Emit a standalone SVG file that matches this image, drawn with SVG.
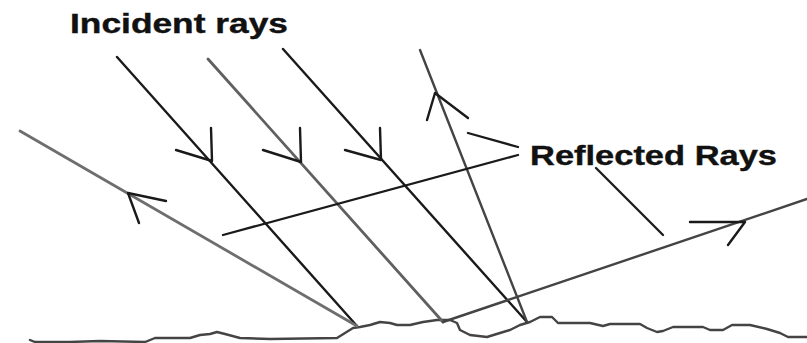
<svg xmlns="http://www.w3.org/2000/svg" width="807" height="343" viewBox="0 0 807 343">
<style>
.ray{fill:none;stroke-width:2.4;stroke-linecap:round;stroke-linejoin:round}
.inc{stroke:#1a1a1a}
.incg{stroke:#606060;stroke-width:2.8}
.ref{stroke:#6e6e6e;stroke-width:2.8}
.refd{stroke:#444}
.ptr{fill:none;stroke:#1a1a1a;stroke-width:2.3;stroke-linecap:round}
.lbl{font-family:"Liberation Sans",Arial,sans-serif;font-weight:bold;font-size:27px;fill:#111;stroke:#111;stroke-width:0.4}
</style>
<rect width="807" height="343" fill="#fff"/>
<g id="ground">
<path class="ray refd" d="M30,340 L35,342 L70,342 L100,341 L145,342 L155,338 L190,338 L200,335 L210,334 L217,332 L225,334 L240,338 L270,339 L337,338 L353,328 L360,327 L370,325 L380,322 L390,323 L397,325 L410,325 L423,322 L437,320 L450,320 L457,323 L460,330 L470,335 L487,337 L500,333 L510,330 L520,325 L530,322 L540,317 L552,317 L558,323 L590,323 L603,326 L610,324 L640,324 L647,328 L657,332 L663,331 L673,327 L703,327 L710,330 L723,330 L732,325 L750,325 L767,329 L780,333 L788,337 L807,337"/>
</g>
<g id="connectors">
<g id="incident-1">
<path class="ray inc" d="M117,57 L357,326"/>
<path class="ray inc" d="M176,150 L212,161 L211,128"/>
</g>
<g id="incident-2">
<path class="ray incg" d="M208,59 L443,322"/>
<path class="ray inc" d="M263,150 L301,162 L300,128"/>
</g>
<g id="incident-3">
<path class="ray inc" d="M283,49 L527,322"/>
<path class="ray inc" d="M345,150 L381,160 L380,128"/>
</g>
<g id="reflected-1">
<path class="ray ref" d="M20,131 L357,326"/>
<path class="ray inc" d="M166,201 L128,193 L139,223"/>
</g>
<g id="reflected-2">
<path class="ray refd" d="M420,50 L527,322"/>
<path class="ray inc" d="M427,120 L435,93 L468,118"/>
</g>
<g id="reflected-3">
<path class="ray refd" d="M443,322 L807,199"/>
<path class="ray inc" d="M690,222 L745,222 L728,245"/>
</g>
<g id="pointers">
<path class="ptr" d="M468,133 L518,147"/>
<path class="ptr" d="M223,235 L518,155"/>
<path class="ptr" d="M596,168 L663,235"/>
</g>
</g>
<g id="label-incident">
<text class="lbl" x="70" y="33" textLength="218" lengthAdjust="spacingAndGlyphs">Incident rays</text>
</g>
<g id="label-reflected">
<text class="lbl" x="530" y="165" textLength="247" lengthAdjust="spacingAndGlyphs">Reflected Rays</text>
</g>
</svg>
